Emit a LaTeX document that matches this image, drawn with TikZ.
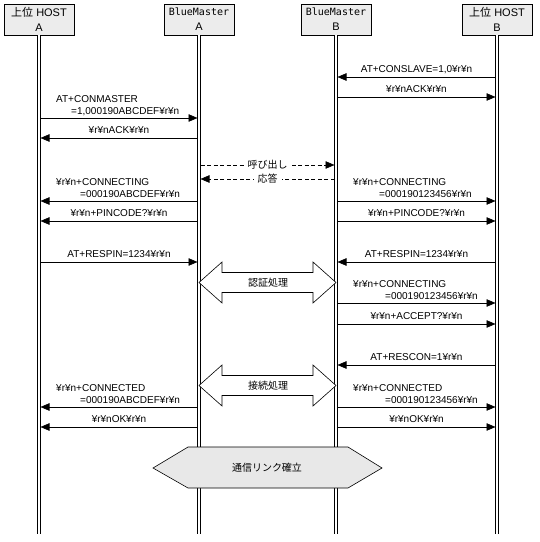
\documentclass[tikz,border=0pt]{standalone}
\usepackage{fontspec}
\setmainfont{Liberation Sans}
\newfontfamily\jp{Noto Sans CJK JP}
\newfontfamily\mono{DejaVu Sans Mono}
\usetikzlibrary{arrows.meta}

\begin{document}
\begin{tikzpicture}[
    x=1pt, y=-1pt,
    hostbox/.style={draw, fill=gray!15, line width=0.6pt, minimum width=70pt, minimum height=31pt, align=center, inner sep=0pt, font=\fontsize{11}{13}\selectfont},
    life/.style={draw, line width=0.7pt, double, double distance=2pt},
    msg/.style={line width=0.6pt, -{Triangle[length=9pt,width=7.5pt]}, shorten <=1.5pt, shorten >=1.5pt},
    call/.style={msg, dash pattern=on 4pt off 2.5pt},
    calltext/.style={fill=white, inner xsep=4pt, inner ysep=1pt, font=\jp},
    lbl/.style={anchor=base, yshift=4.5pt, inner sep=0pt},
    lbltwo/.style={anchor=south west, align=left, inner sep=0pt},
    bigarrow/.style={draw, fill=white, line width=0.6pt},
    ]
  \useasboundingbox (0,0) rectangle (540,542);

  % heads
  \node [hostbox] (hosta) at (39,19.5) {{\jp 上位} HOST\\[2pt]A};
  \node [hostbox] (bma) at (199,19.5) {{\mono\fontsize{10}{13}\selectfont BlueMaster}\\[2pt]A};
  \node [hostbox] (bmb) at (336,19.5) {{\mono\fontsize{10}{13}\selectfont BlueMaster}\\[2pt]B};
  \node [hostbox] (hostb) at (497,19.5) {{\jp 上位} HOST\\[2pt]B};

  % lifelines
  \coordinate (hosta-end) at (hosta |- 0,534);
  \coordinate (bma-end) at (bma |- 0,534);
  \coordinate (bmb-end) at (bmb |- 0,534);
  \coordinate (hostb-end) at (hostb |- 0,534);
  \draw [life] (hosta.south) -- (hosta-end);
  \draw [life] (bma.south) -- (bma-end);
  \draw [life] (bmb.south) -- (bmb-end);
  \draw [life] (hostb.south) -- (hostb-end);

  % slave side
  \draw [msg] (hostb |- 0,77) -- node [lbl] {AT+CONSLAVE=1,0¥r¥n} (bmb |- 0,77);
  \draw [msg] (bmb |- 0,97) -- node [lbl] {¥r¥nACK¥r¥n} (hostb |- 0,97);

  % master side
  \draw [msg] (hosta |- 0,118) -- (bma |- 0,118);
  \node [lbltwo] (conmaster) at (56,116) {AT+CONMASTER\\\hspace*{15pt}=1,000190ABCDEF¥r¥n};
  \draw [msg] (bma |- 0,138) -- node [lbl] {¥r¥nACK¥r¥n} (hosta |- 0,138);

  % call
  \draw [call] (bma |- 0,165) -- node [calltext] (callout) {呼び出し} (bmb |- 0,165);
  \draw [call] (bmb |- 0,179) -- node [calltext] (answer) {応答} (bma |- 0,179);

  % connecting
  \draw [msg] (bma |- 0,201) -- (hosta |- 0,201);
  \node [lbltwo] (conninga) at (56,198) {¥r¥n+CONNECTING\\\hspace*{24pt}=000190ABCDEF¥r¥n};
  \draw [msg] (bmb |- 0,201) -- (hostb |- 0,201);
  \node [lbltwo] (conningb) at (353,198) {¥r¥n+CONNECTING\\\hspace*{26pt}=000190123456¥r¥n};
  \draw [msg] (bma |- 0,221) -- node [lbl] {¥r¥n+PINCODE?¥r¥n} (hosta |- 0,221);
  \draw [msg] (bmb |- 0,221) -- node [lbl] {¥r¥n+PINCODE?¥r¥n} (hostb |- 0,221);
  \draw [msg] (hosta |- 0,262) -- node [lbl] {AT+RESPIN=1234¥r¥n} (bma |- 0,262);
  \draw [msg] (hostb |- 0,262) -- node [lbl] {AT+RESPIN=1234¥r¥n} (bmb |- 0,262);

  % authentication
  \draw [bigarrow] (199,282.5) -- (222,262) -- (222,272.5) -- (313,272.5) -- (313,262) -- (336,282.5)
    -- (313,303) -- (313,292.5) -- (222,292.5) -- (222,303) -- cycle;
  \node [font=\jp] (auth) at (268,282.5) {認証処理};

  \draw [msg] (bmb |- 0,303) -- (hostb |- 0,303);
  \node [lbltwo] (conningb2) at (353,300) {¥r¥n+CONNECTING\\\hspace*{32pt}=000190123456¥r¥n};
  \draw [msg] (bmb |- 0,324) -- node [lbl] {¥r¥n+ACCEPT?¥r¥n} (hostb |- 0,324);
  \draw [msg] (hostb |- 0,365) -- node [lbl] {AT+RESCON=1¥r¥n} (bmb |- 0,365);

  % connection
  \draw [bigarrow] (199,385.5) -- (222,365) -- (222,375.5) -- (313,375.5) -- (313,365) -- (336,385.5)
    -- (313,406) -- (313,395.5) -- (222,395.5) -- (222,406) -- cycle;
  \node [font=\jp] (conn) at (268,385.5) {接続処理};

  \draw [msg] (bma |- 0,407) -- (hosta |- 0,407);
  \node [lbltwo] (connecteda) at (56,404) {¥r¥n+CONNECTED\\\hspace*{24pt}=000190ABCDEF¥r¥n};
  \draw [msg] (bmb |- 0,407) -- (hostb |- 0,407);
  \node [lbltwo] (connectedb) at (353,404) {¥r¥n+CONNECTED\\\hspace*{32pt}=000190123456¥r¥n};
  \draw [msg] (bma |- 0,427) -- node [lbl] {¥r¥nOK¥r¥n} (hosta |- 0,427);
  \draw [msg] (bmb |- 0,427) -- node [lbl] {¥r¥nOK¥r¥n} (hostb |- 0,427);

  % link
  \draw [fill=gray!18, line width=0.6pt] (153,468) -- (188,447) -- (348,447) -- (382,468) -- (348,488) -- (188,488) -- cycle;
  \node [font=\jp] (link) at (267,468) {通信リンク確立};
\end{tikzpicture}
\end{document}
